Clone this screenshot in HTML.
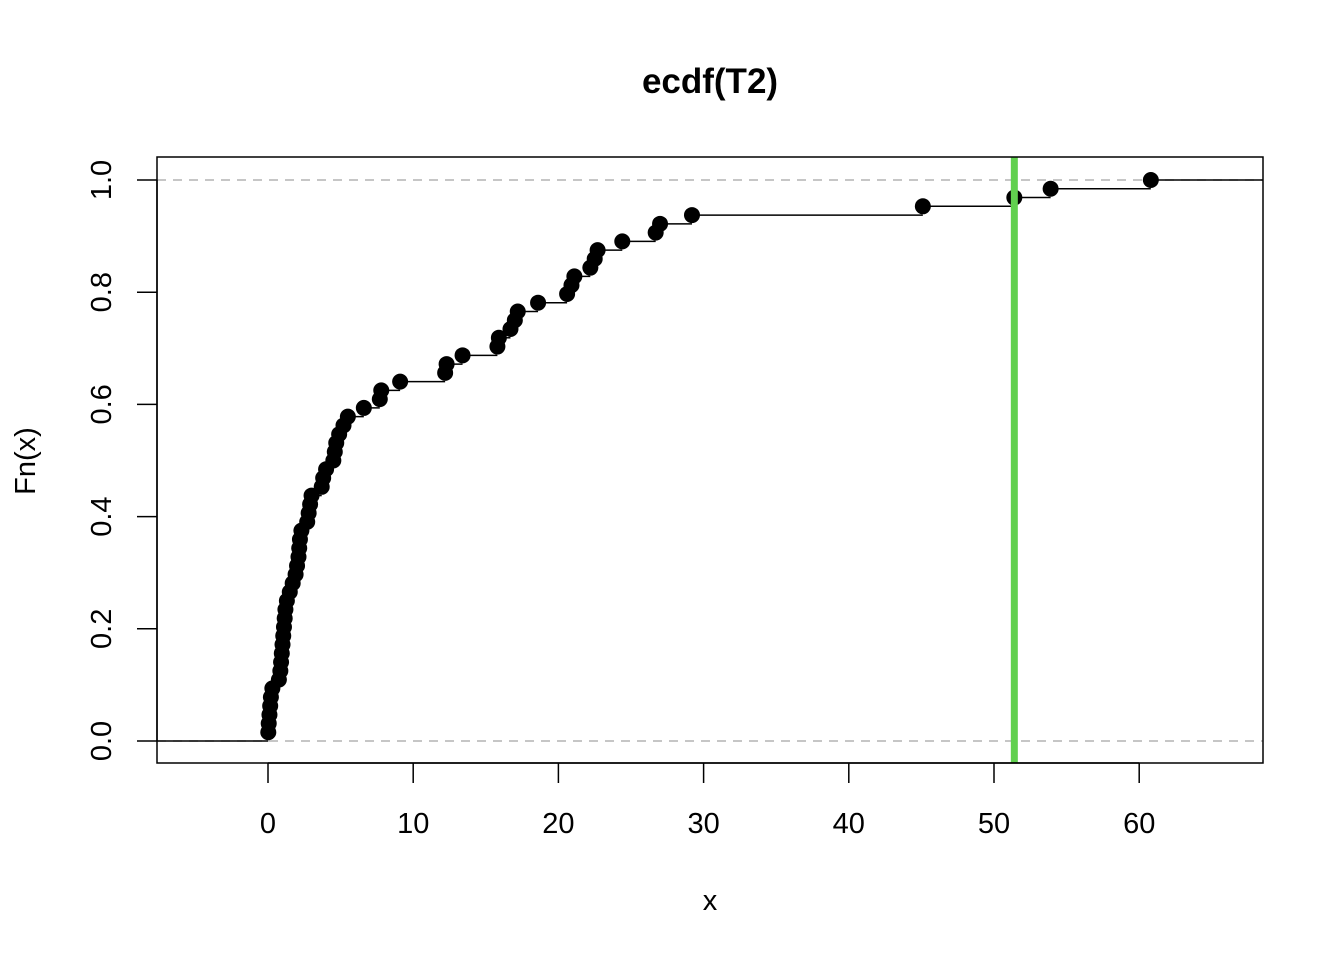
<!DOCTYPE html>
<html><head><meta charset="utf-8"><style>
html,body{margin:0;padding:0;background:#fff;}
svg{display:block;font-family:"Liberation Sans",Arial,sans-serif;}
</style></head><body>
<svg id="chart" width="1344" height="960" viewBox="0 0 1344 960" xmlns="http://www.w3.org/2000/svg">
<rect x="0" y="0" width="1344" height="960" fill="#fff"/>
<text x="710" y="93" text-anchor="middle" font-size="35" font-weight="bold">ecdf(T2)</text>
<text x="710" y="910" text-anchor="middle" font-size="29">x</text>
<text transform="translate(35,461) rotate(-90)" text-anchor="middle" font-size="29">Fn(x)</text>
<g id="marks"></g>
<rect x="157" y="157" width="1106" height="606" fill="none" stroke="#000" stroke-width="1.5"/>
<g id="axes"></g>
</svg>
<script>
const samples = [0.02,0.05,0.1,0.15,0.2,0.3,0.75,0.85,
0.9,0.95,1.0,1.05,1.1,1.15,1.2,1.3,
1.5,1.7,1.9,2.0,2.1,2.15,2.2,2.3,
2.7,2.8,2.9,3.0,3.7,3.8,4.0,4.5,4.6,4.7,4.9,5.2,5.5,6.6,7.7,7.8,
9.1,12.2,12.3,13.4,15.8,15.9,16.7,17.0,17.2,18.6,20.6,20.9,21.1,22.2,22.5,22.7,
24.4,26.7,27.0,29.2,45.1,51.4,53.9,60.8];
const xTicks = [0,10,20,30,40,50,60];
const yTicks = [0,0.2,0.4,0.6,0.8,1.0];
const yTickLabels = ["0.0","0.2","0.4","0.6","0.8","1.0"];
const refLineX = [51.4];

const NS="http://www.w3.org/2000/svg";
const L=157,R=1263,T=157,B=763;
const sx=v=>268+14.52*v;
const sy=v=>741-561*v;
const marks=document.getElementById('marks');
const axes=document.getElementById('axes');
function mk(tag,attrs,parent){const e=document.createElementNS(NS,tag);for(const k in attrs)e.setAttribute(k,attrs[k]);parent.appendChild(e);return e;}

[0,1].forEach(v=>{
  const l=mk('line',{x1:L,x2:R,y1:sy(v),y2:sy(v),stroke:'#b3b3b3','stroke-width':1.5,'stroke-dasharray':'9,7'},marks);
  
  
});

const xs=samples.slice().sort((a,b)=>a-b);
const n=xs.length;
const ux=[],uf=[];
xs.forEach((v,i)=>{ if(ux.length&&ux[ux.length-1]===v){uf[uf.length-1]=(i+1)/n;} else {ux.push(v);uf.push((i+1)/n);} });

let prevX=L, prevF=0;
for(let i=0;i<=ux.length;i++){
  const xEnd = i<ux.length ? sx(ux[i]) : R;
  const s=mk('line',{x1:prevX,x2:xEnd,y1:sy(prevF),y2:sy(prevF),stroke:'#000','stroke-width':1.5},marks);
  
  
  if(i<ux.length){prevX=sx(ux[i]);prevF=uf[i];}
}
ux.forEach((v,i)=>{
  const c=mk('circle',{cx:sx(v),cy:sy(uf[i]),r:8,fill:'#000'},marks);
  
  
});
refLineX.forEach(v=>{
  const g=mk('line',{x1:sx(v),x2:sx(v),y1:T,y2:B,stroke:'#61D04F','stroke-width':7},marks);
  
  
});
mk('line',{x1:sx(xTicks[0]),x2:sx(xTicks[xTicks.length-1]),y1:B,y2:B,stroke:'#000','stroke-width':1.5},axes);
xTicks.forEach(v=>{
  const t=mk('line',{x1:sx(v),x2:sx(v),y1:B,y2:B+20,stroke:'#000','stroke-width':1.5},axes);
  
  
  const lb=mk('text',{x:sx(v),y:833,'text-anchor':'middle','font-size':29},axes);
  lb.textContent=String(v);
  
  
});
mk('line',{x1:L,x2:L,y1:sy(yTicks[0]),y2:sy(yTicks[yTicks.length-1]),stroke:'#000','stroke-width':1.5},axes);
yTicks.forEach((v,i)=>{
  const t=mk('line',{x1:L-20,x2:L,y1:sy(v),y2:sy(v),stroke:'#000','stroke-width':1.5},axes);
  
  
  const lb=mk('text',{transform:`translate(111,${sy(v)}) rotate(-90)`,'text-anchor':'middle','font-size':29},axes);
  lb.textContent=yTickLabels[i];
  
  
});
</script>
</body></html>
